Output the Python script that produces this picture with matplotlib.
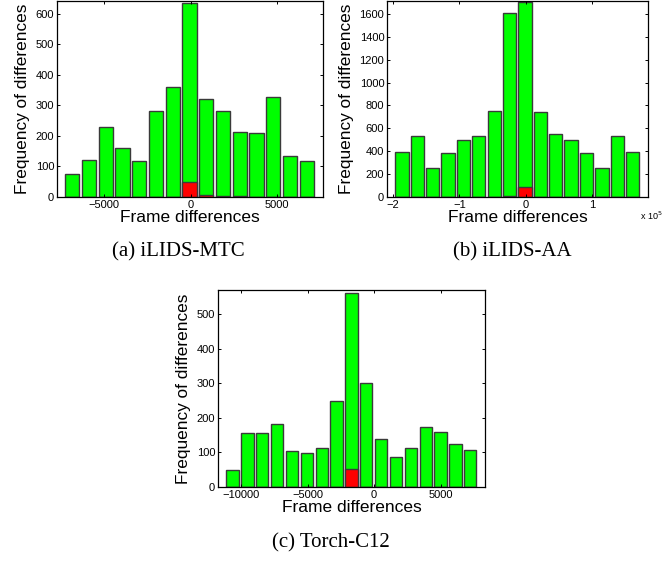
import matplotlib
matplotlib.use('Agg')
import matplotlib.pyplot as plt

plt.rcParams['font.family'] = ['Liberation Sans', 'DejaVu Sans']

# (a) iLIDS-MTC
a_centers = [-6850, -5880, -4910, -3940, -2980, -2010, -1040, -70, 900, 1870, 2840, 3800, 4770, 5740, 6710]
a_all = [75, 122, 229, 160, 117, 283, 360, 634, 321, 283, 214, 210, 328, 133, 118]
a_red = [0, 0, 0, 0, 0, 0, 0, 50, 5, 2, 2, 0, 0, 0, 0]
a_xticks = [-5000, 0, 5000]
a_yticks = [0, 100, 200, 300, 400, 500, 600]

# (b) iLIDS-AA  (x in units of 1e5)
b_centers = [-1.865, -1.633, -1.402, -1.170, -0.939, -0.707, -0.475, -0.244,
             -0.012, 0.219, 0.451, 0.682, 0.914, 1.146, 1.377, 1.609]
b_all = [393, 532, 253, 384, 500, 535, 750, 1611, 1704, 742, 547, 500, 381, 253, 532, 396]
b_red = [0, 0, 0, 0, 0, 0, 0, 6, 90, 0, 0, 0, 0, 0, 0, 0]
b_xticks = [-2, -1, 0, 1]
b_yticks = [0, 200, 400, 600, 800, 1000, 1200, 1400, 1600]

# (c) Torch-C12
c_centers = [-10656, -9538, -8420, -7302, -6184, -5066, -3948, -2830, -1712,
             -594, 524, 1642, 2760, 3878, 4996, 6114, 7232]
c_all = [48, 155, 157, 183, 103, 98, 112, 250, 560, 300, 140, 88, 112, 173, 158, 125, 107]
c_red = [0, 0, 0, 0, 0, 0, 0, 0, 53, 0, 0, 0, 0, 0, 0, 0, 0]
c_xticks = [-10000, -5000, 0, 5000]
c_yticks = [0, 100, 200, 300, 400, 500]

W, H = 670, 563
fig = plt.figure(figsize=(W / 100, H / 100), dpi=100)


def px_axes(left, top, right, bottom):
    return fig.add_axes([left / W, (H - bottom) / H, (right - left) / W, (bottom - top) / H])


def hist_panel(ax, centers, allv, red, width, xlim, ylim, xticks, yticks):
    ax.bar(centers, allv, width=width, color='#00ff00', edgecolor='#3a3a3a', linewidth=1.0)
    ax.bar(centers, red, width=width, color='#ff0000', edgecolor='#3a3a3a', linewidth=1.0)
    ax.set_xlim(xlim)
    ax.set_ylim(ylim)
    ax.set_xticks(xticks)
    ax.set_yticks(yticks)
    ax.set_xticklabels([str(t).replace('-', '\u2212') for t in xticks])
    ax.tick_params(direction='in', top=True, right=True, length=2.5, width=0.7,
                   labelsize=8, pad=2)
    for s in ax.spines.values():
        s.set_linewidth(0.9)
    ax.set_xlabel('Frame differences', fontsize=12.5, labelpad=0)
    ax.set_ylabel('Frequency of differences', fontsize=12.4, labelpad=4)


ax1 = px_axes(57, 1, 323, 197)
hist_panel(ax1, a_centers, a_all, a_red, 820, (-7720, 7640), (0, 642), a_xticks, a_yticks)

ax2 = px_axes(387, 1, 648, 197)
hist_panel(ax2, b_centers, b_all, b_red, 0.200, (-2.09, 1.84), (0, 1713), b_xticks, b_yticks)
fig.text(651 / W, 1 - 216 / H, 'x 10$^5$', fontsize=6.5, ha='center', va='center')

ax3 = px_axes(218, 290, 485, 487)
hist_panel(ax3, c_centers, c_all, c_red, 930, (-11756, 8342), (0, 570), c_xticks, c_yticks)

serif = ['Liberation Serif', 'DejaVu Serif']
fig.text(178 / W, 1 - 252 / H, '(a) iLIDS-MTC', fontsize=15, family=serif, ha='center', va='center')
fig.text(512 / W, 1 - 252 / H, '(b) iLIDS-AA', fontsize=15, family=serif, ha='center', va='center')
fig.text(331 / W, 1 - 543 / H, '(c) Torch-C12', fontsize=15, family=serif, ha='center', va='center')

fig.savefig('out.png', dpi=100)
